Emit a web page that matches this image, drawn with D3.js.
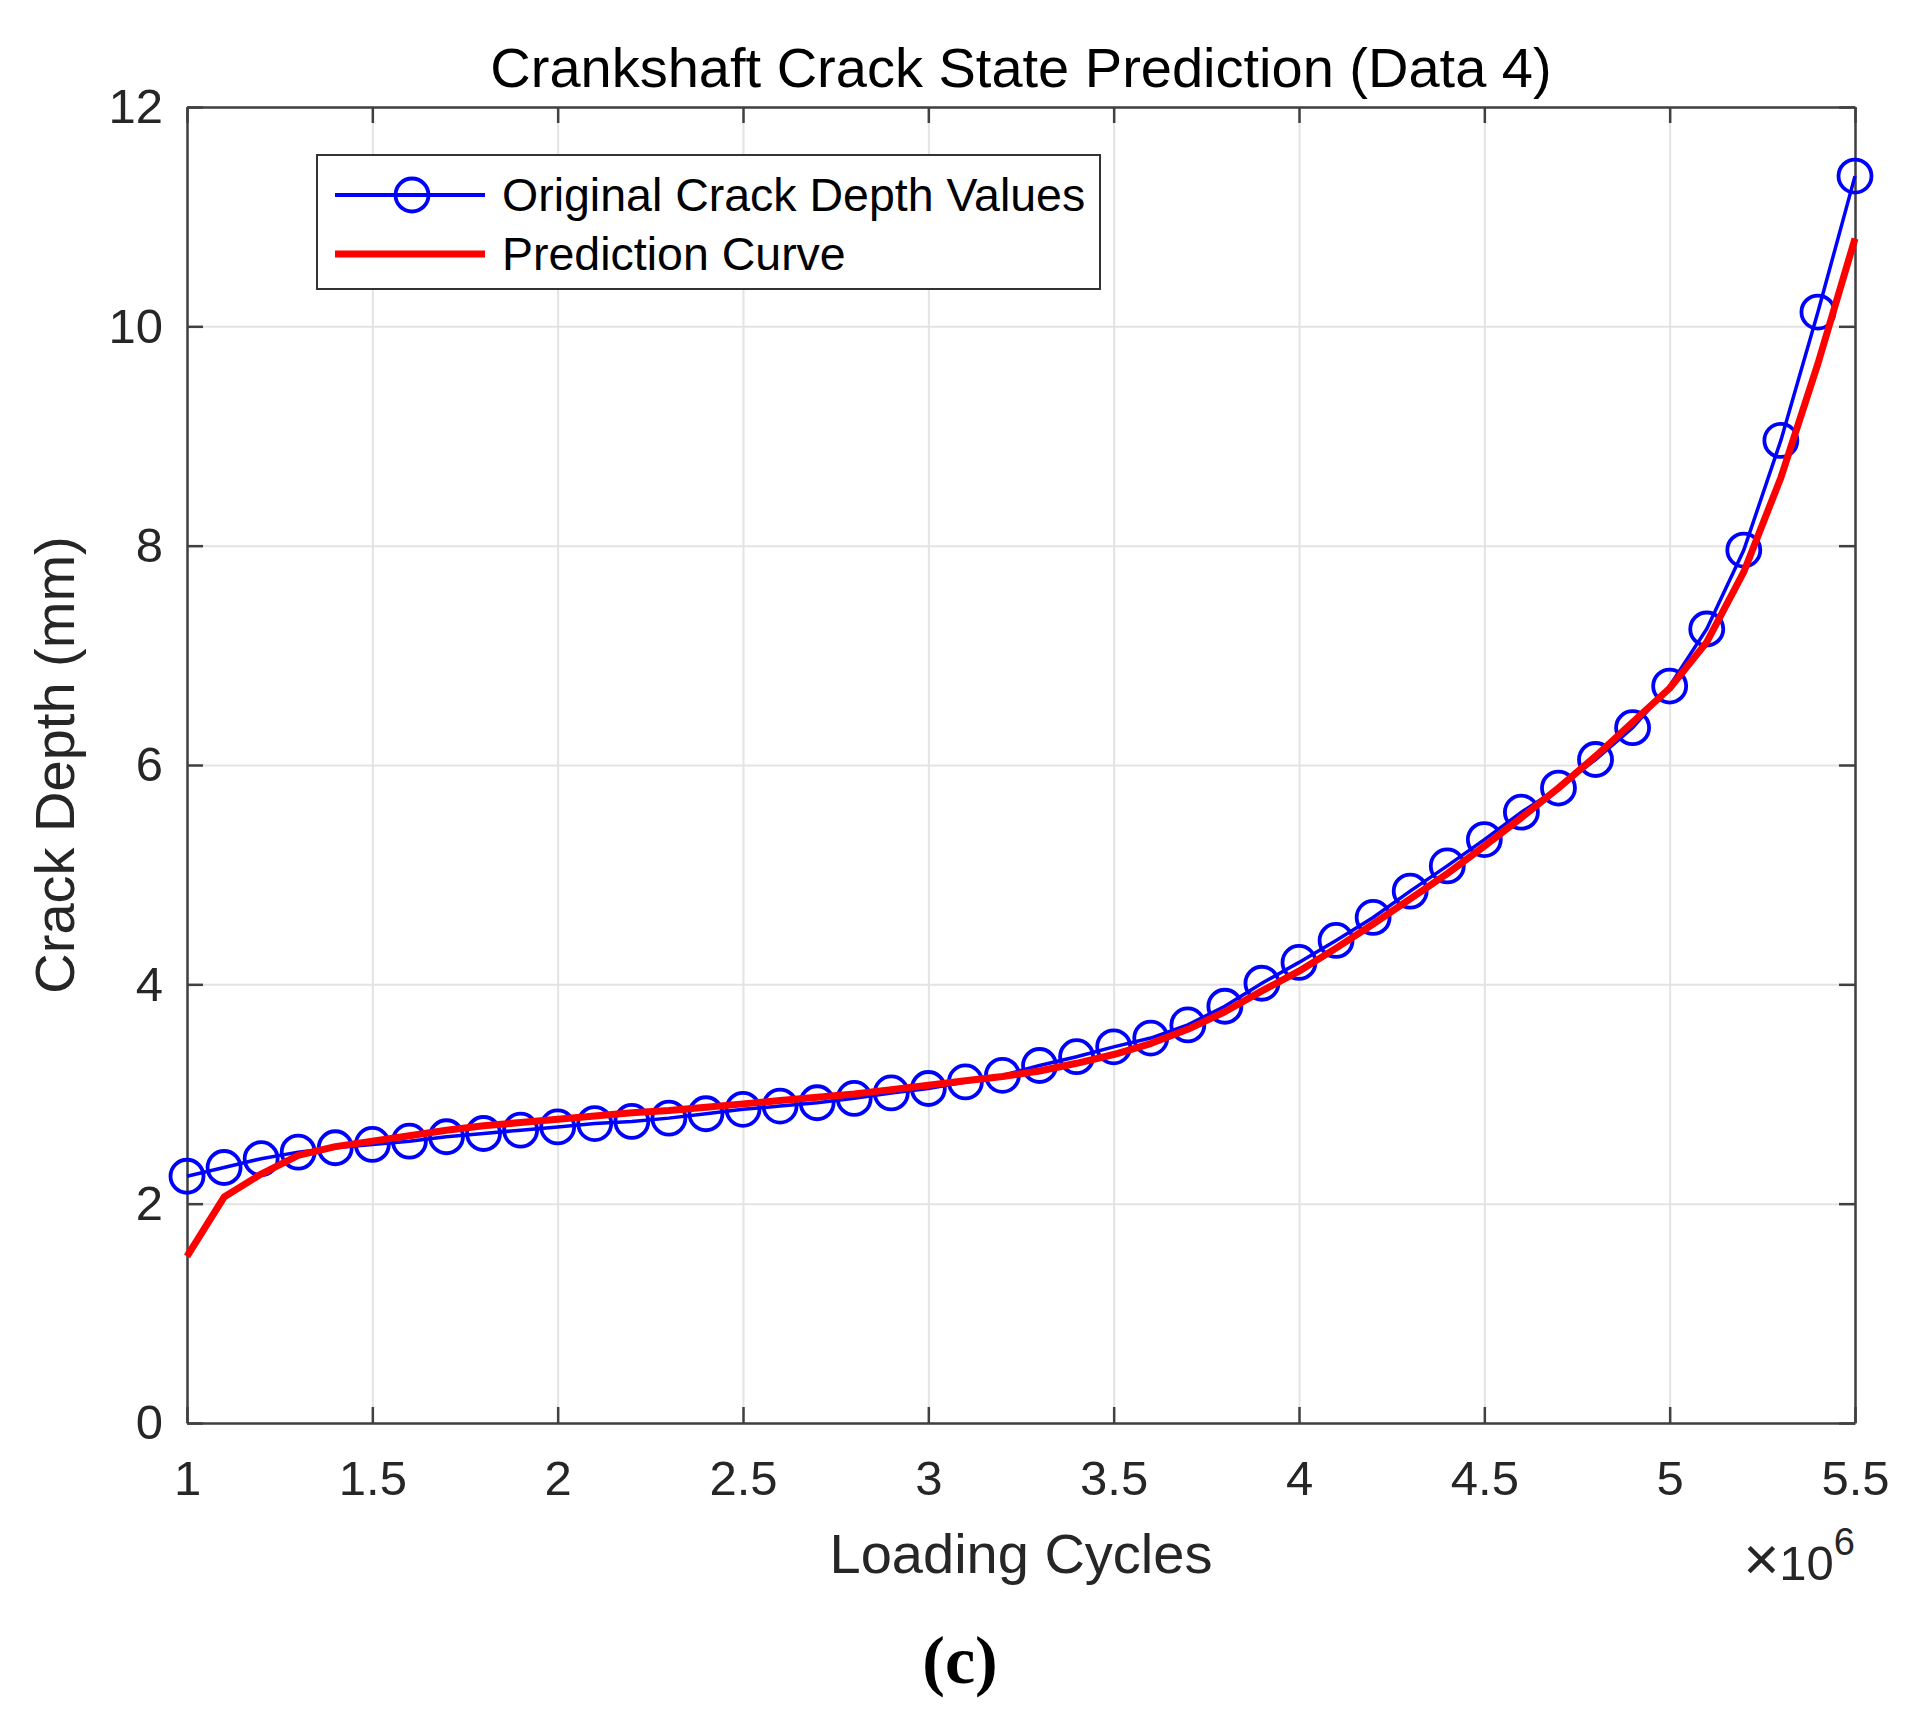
<!DOCTYPE html>
<html>
<head>
<meta charset="utf-8">
<script src="https://cdn.jsdelivr.net/npm/d3@7"></script>
<style>
  body { margin: 0; background: #fff; }
  svg { display: block; font-family: "Liberation Sans", Arial, sans-serif; }
</style>
</head>
<body>
<svg id="chart" width="1912" height="1728"></svg>
<script>
// loading cycles, in units of 10^6
const cycles = [1.0, 1.1, 1.2, 1.3, 1.4, 1.5, 1.6, 1.7, 1.8, 1.9,
  2.0, 2.1, 2.2, 2.3, 2.4, 2.5, 2.6, 2.7, 2.8, 2.9,
  3.0, 3.1, 3.2, 3.3, 3.4, 3.5, 3.6, 3.7, 3.8, 3.9,
  4.0, 4.1, 4.2, 4.3, 4.4, 4.5, 4.6, 4.7, 4.8, 4.9,
  5.0, 5.1, 5.2, 5.3, 5.4, 5.5]

// original crack depth values (mm)
const crackDepth = [2.25, 2.33, 2.41, 2.47, 2.51, 2.54, 2.57, 2.61, 2.64, 2.67,
  2.70, 2.73, 2.75, 2.78, 2.82, 2.86, 2.89, 2.92, 2.96, 3.01,
  3.05, 3.11, 3.17, 3.26, 3.34, 3.43, 3.51, 3.63, 3.80, 4.01,
  4.20, 4.40, 4.61, 4.85, 5.08, 5.32, 5.57, 5.79, 6.05, 6.34,
  6.72, 7.24, 7.96, 8.96, 10.13, 11.37]

// prediction curve (mm)
const prediction = [1.52, 2.06, 2.27, 2.44, 2.52, 2.57, 2.62, 2.67, 2.71, 2.74,
  2.77, 2.80, 2.83, 2.85, 2.88, 2.91, 2.94, 2.97, 3.00, 3.04,
  3.08, 3.12, 3.16, 3.21, 3.28, 3.36, 3.46, 3.59, 3.75, 3.94,
  4.12, 4.33, 4.55, 4.78, 5.01, 5.26, 5.52, 5.79, 6.08, 6.39,
  6.70, 7.12, 7.76, 8.62, 9.66, 10.80]

const xTicks = [1, 1.5, 2, 2.5, 3, 3.5, 4, 4.5, 5, 5.5]
const xTickLabels = ['1', '1.5', '2', '2.5', '3', '3.5', '4', '4.5', '5', '5.5']
const yTicks = [0, 2, 4, 6, 8, 10, 12]
const yTickLabels = ['0', '2', '4', '6', '8', '10', '12']

const title = 'Crankshaft Crack State Prediction (Data 4)'
const xLabel = 'Loading Cycles'
const yLabel = 'Crack Depth (mm)'
const seriesNames = ['Original Crack Depth Values', 'Prediction Curve']
const panelTag = '(c)'

const margin = { top: 107, right: 57, bottom: 305, left: 187 }
const width = 1912 - margin.left - margin.right
const height = 1728 - margin.top - margin.bottom
const axisColor = '#404040'
const textColor = '#262626'

const svg = d3.select('#chart')
const g = svg.append('g').attr('transform', `translate(${margin.left},${margin.top})`)

// scales
const x = d3.scaleLinear().domain([1, 5.5]).range([0, width])
const y = d3.scaleLinear().domain([0, 12]).range([height, 0])

// grid
g.append('g')
  .attr('class', 'grid')
  .attr('transform', `translate(0,${height})`)
  .call(d3.axisBottom(x).tickValues(xTicks).tickSize(-height).tickFormat(''))
g.append('g')
  .attr('class', 'grid')
  .call(d3.axisLeft(y).tickValues(yTicks).tickSize(-width).tickFormat(''))
g.selectAll('.grid .domain').remove()
g.selectAll('.grid line').attr('stroke', '#e3e3e3').attr('stroke-width', 2)

// axes, ticks pointing inward
const tickLen = 16
g.append('g')
  .attr('transform', `translate(0,${height})`)
  .call(d3.axisBottom(x).tickValues(xTicks).tickSizeInner(-tickLen).tickSizeOuter(0)
    .tickPadding(37).tickFormat((d, i) => xTickLabels[i]))
g.append('g')
  .call(d3.axisLeft(y).tickValues(yTicks).tickSizeInner(-tickLen).tickSizeOuter(0)
    .tickPadding(24).tickFormat((d, i) => yTickLabels[i]))
g.append('g')
  .call(d3.axisTop(x).tickValues(xTicks).tickSizeInner(-tickLen).tickSizeOuter(0).tickFormat(''))
g.append('g')
  .attr('transform', `translate(${width},0)`)
  .call(d3.axisRight(y).tickValues(yTicks).tickSizeInner(-tickLen).tickSizeOuter(0).tickFormat(''))

g.selectAll('.domain').attr('stroke', axisColor).attr('stroke-width', 2.5)
g.selectAll('.tick line').filter(function () { return !this.closest('.grid') })
  .attr('stroke', axisColor).attr('stroke-width', 2.5)
g.selectAll('.tick text')
  .attr('font-size', 49)
  .attr('fill', textColor)
  .attr('font-family', '"Liberation Sans", Arial, sans-serif')

// data lines
const pts = cycles.map((c, i) => ({ c, depth: crackDepth[i], pred: prediction[i] }))

const blueLine = d3.line().x(d => x(d.c)).y(d => y(d.depth))
const redLine = d3.line().x(d => x(d.c)).y(d => y(d.pred))

g.append('path')
  .datum(pts)
  .attr('d', blueLine)
  .attr('fill', 'none')
  .attr('stroke', '#0000ff')
  .attr('stroke-width', 3.5)

g.selectAll('circle.orig')
  .data(pts)
  .join('circle')
  .attr('class', 'orig')
  .attr('cx', d => x(d.c))
  .attr('cy', d => y(d.depth))
  .attr('r', 16.5)
  .attr('fill', 'none')
  .attr('stroke', '#0000ff')
  .attr('stroke-width', 3.8)

g.append('path')
  .datum(pts)
  .attr('d', redLine)
  .attr('fill', 'none')
  .attr('stroke', '#ff0000')
  .attr('stroke-width', 7)
  .attr('stroke-linejoin', 'round')

// legend
const lg = svg.append('g').attr('transform', 'translate(317,155)')
lg.append('rect')
  .attr('width', 783).attr('height', 134)
  .attr('fill', '#fff').attr('stroke', '#333').attr('stroke-width', 2)
const rows = [
  { name: seriesNames[0], color: '#0000ff', w: 3.8, marker: true, cy: 40 },
  { name: seriesNames[1], color: '#ff0000', w: 7, marker: false, cy: 99 }
]
rows.forEach(r => {
  lg.append('line')
    .attr('x1', 18).attr('x2', 168).attr('y1', r.cy).attr('y2', r.cy)
    .attr('stroke', r.color).attr('stroke-width', r.w)
  if (r.marker) {
    lg.append('circle')
      .attr('cx', 95).attr('cy', r.cy).attr('r', 16.5)
      .attr('fill', 'none').attr('stroke', r.color).attr('stroke-width', 3.8)
  }
  lg.append('text')
    .attr('x', 185).attr('y', r.cy + 16)
    .attr('font-size', 46.5).attr('fill', '#000')
    .text(r.name)
})

// title & labels
svg.append('text')
  .attr('x', margin.left + width / 2).attr('y', 87)
  .attr('text-anchor', 'middle').attr('font-size', 56).attr('fill', '#000')
  .text(title)

svg.append('text')
  .attr('x', margin.left + width / 2).attr('y', 1573)
  .attr('text-anchor', 'middle').attr('font-size', 56).attr('fill', textColor)
  .text(xLabel)

svg.append('text')
  .attr('transform', `translate(74,${margin.top + height / 2}) rotate(-90)`)
  .attr('text-anchor', 'middle').attr('font-size', 56).attr('fill', textColor)
  .text(yLabel)

// x exponent
const expo = svg.append('text')
  .attr('x', margin.left + width).attr('y', 1580)
  .attr('text-anchor', 'end').attr('font-size', 49).attr('fill', textColor)
expo.append('tspan').attr('font-size', 62).attr('font-weight', 300).text('\u00d7')
expo.append('tspan').text('10')
expo.append('tspan').attr('dy', -25).attr('font-size', 38).text('6')

// panel tag
svg.append('text')
  .attr('x', 960).attr('y', 1683)
  .attr('text-anchor', 'middle')
  .attr('font-family', '"Liberation Serif", "Times New Roman", serif')
  .attr('font-weight', 'bold').attr('font-size', 68).attr('fill', '#000')
  .text(panelTag)
</script>
</body>
</html>
